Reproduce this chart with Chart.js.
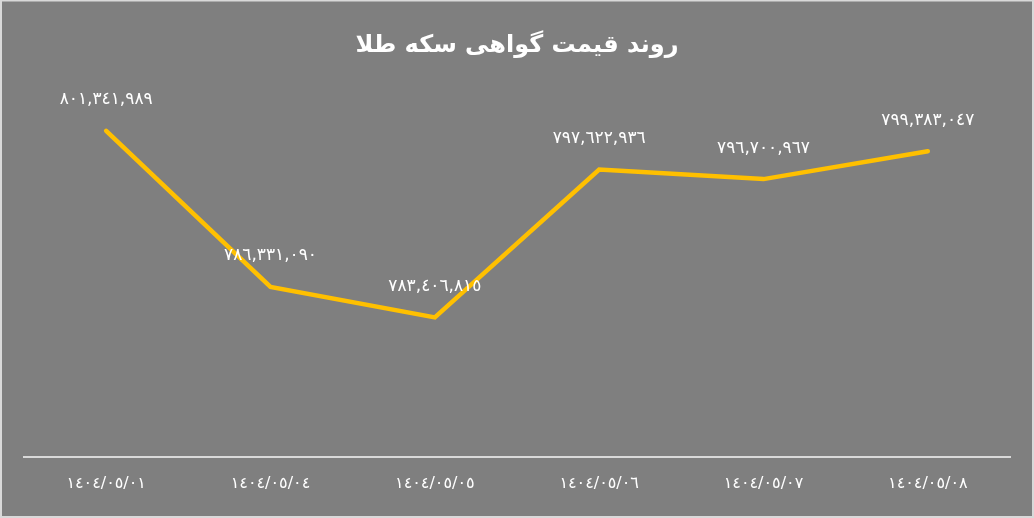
<!DOCTYPE html>
<html>
<head>
<meta charset="utf-8">
<script src="https://cdn.jsdelivr.net/npm/chart.js@4/dist/chart.umd.min.js"></script>
<style>
html,body{margin:0;padding:0;background:#7f7f7f;}
#wrap{width:1034px;height:518px;position:relative;}
</style>
</head>
<body>
<div id="wrap"><canvas id="c" width="1034" height="518"></canvas></div>
<script>
const titleText = 'روند قیمت گواهی سکه طلا';
const categories = ['١٤٠٤/٠٥/٠١','١٤٠٤/٠٥/٠٤','١٤٠٤/٠٥/٠٥','١٤٠٤/٠٥/٠٦','١٤٠٤/٠٥/٠٧','١٤٠٤/٠٥/٠٨'];
const prices = [801341989, 786331090, 783406815, 797622936, 796700967, 799383047];
const yMin = 770000000;
const yMax = 805000000;

const arabicDigits = '٠١٢٣٤٥٦٧٨٩';
function fmt(v){
  const s = String(Math.round(v)).replace(/\B(?=(\d{3})+(?!\d))/g, ',');
  return s.replace(/\d/g, d => arabicDigits[+d]);
}

const bgPlugin = {
  id: 'bg',
  beforeDraw(chart){
    const ctx = chart.ctx;
    ctx.save();
    ctx.fillStyle = '#7f7f7f';
    ctx.fillRect(0,0,chart.width,chart.height);
    ctx.strokeStyle = '#d9d9d9';
    ctx.lineWidth = 2;
    ctx.strokeRect(1,0.5,chart.width-2,chart.height-1.5);
    ctx.restore();
  }
};

const labelPlugin = {
  id: 'valueLabels',
  afterDatasetsDraw(chart){
    const ctx = chart.ctx;
    const meta = chart.getDatasetMeta(0);
    ctx.save();
    ctx.fillStyle = '#ffffff';
    ctx.font = '17px "DejaVu Sans"';
    ctx.textAlign = 'center';
    ctx.textBaseline = 'middle';
    meta.data.forEach((pt, i) => {
      ctx.fillText(fmt(chart.data.datasets[0].data[i]), pt.x, pt.y - 31);
    });
    ctx.restore();
  }
};

new Chart(document.getElementById('c'), {
  type: 'line',
  data: {
    labels: categories,
    datasets: [{
      data: prices,
      borderColor: '#FFC000',
      borderWidth: 4.5,
      borderCapStyle: 'round',
      pointRadius: 0,
      tension: 0,
      fill: false
    }]
  },
  options: {
    responsive: false,
    animation: false,
    devicePixelRatio: 1,
    layout: { padding: { left: 24, right: 24, top: 0, bottom: 8 } },
    plugins: {
      legend: { display: false },
      tooltip: { enabled: false },
      title: {
        display: true,
        text: titleText,
        color: '#ffffff',
        font: { family: '"DejaVu Sans"', size: 24, weight: 'bold', lineHeight: 1.2 },
        padding: { top: 31, bottom: 33 }
      }
    },
    scales: {
      y: { display: false, min: yMin, max: yMax },
      x: {
        offset: true,
        grid: { display: false, drawTicks: false },
        border: { display: true, color: '#d9d9d9', width: 2 },
        ticks: { color: '#ffffff', font: { family: '"DejaVu Sans"', size: 16 }, padding: 17, maxRotation: 0 }
      }
    }
  },
  plugins: [bgPlugin, labelPlugin]
});
</script>
</body>
</html>
